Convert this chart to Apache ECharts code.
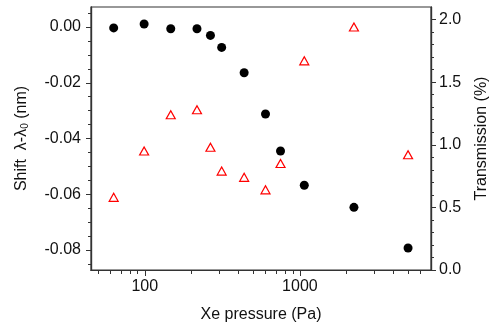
<!DOCTYPE html>
<html>
<head>
<meta charset="utf-8">
<script src="https://cdn.jsdelivr.net/npm/echarts@6/dist/echarts.min.js"></script>
<style>
  html, body { margin: 0; padding: 0; background: #fff; }
  #chart { width: 495px; height: 322px; }
</style>
</head>
<body>
<div id="chart"></div>
<script>
// Xe pressure (Pa), shared by both series
const pressure = [63, 99, 147, 217, 265, 313, 437, 600, 750, 1067, 2230, 4980];
// wavelength shift (nm), left axis
const shift = [-0.0003, 0.0011, -0.0006, -0.0006, -0.0030, -0.0073, -0.0164, -0.0312, -0.0445, -0.0568, -0.0647, -0.0793];
// transmission (%), right axis
const transmission = [0.58, 0.95, 1.24, 1.28, 0.98, 0.79, 0.74, 0.64, 0.85, 1.67, 1.94, 0.92];

// tick labels / positions
const xMajor = [100, 1000];
const xMinor = [50, 60, 70, 80, 90, 200, 300, 400, 500, 600, 700, 800, 900, 2000, 3000, 4000, 5000, 6000];
const leftMajor = [-0.08, -0.06, -0.04, -0.02, 0.00];
const leftMinor = [-0.085, -0.075, -0.07, -0.065, -0.055, -0.05, -0.045, -0.035, -0.03, -0.025, -0.015, -0.01, -0.005, 0.005];
const rightMajor = [0, 0.5, 1.0, 1.5, 2.0];
const rightMinor = [0.1, 0.2, 0.3, 0.4, 0.6, 0.7, 0.8, 0.9, 1.1, 1.2, 1.3, 1.4, 1.6, 1.7, 1.8, 1.9];

const X_MIN = 45, X_MAX = 7000;
const L_MIN = -0.0872, L_MAX = 0.0072;
const R_MIN = 0, R_MAX = 2.1;

const font = 'Liberation Sans, Arial, sans-serif';
const lineColor = '#333';

const chart = echarts.init(document.getElementById('chart'));

const baseX = {
  type: 'log',
  min: X_MIN,
  max: X_MAX,
  position: 'bottom',
  splitLine: { show: false },
  axisLine: { show: true, onZero: false, lineStyle: { color: lineColor, width: 1.2 } },
};
const baseY = {
  type: 'value',
  splitLine: { show: false },
  axisLine: { show: true, onZero: false, lineStyle: { color: lineColor, width: 1.2 } },
};

const option = {
  animation: false,
  grid: {
    left: 91, right: 64, top: 7, bottom: 52,
    outerBoundsMode: 'none',
    containLabel: false,
    show: true, borderColor: lineColor, borderWidth: 1.2, backgroundColor: 'transparent',
  },
  xAxis: [
    Object.assign({}, baseX, {
      name: 'Xe pressure (Pa)',
      nameLocation: 'middle',
      nameGap: 37,
      nameTextStyle: { fontFamily: font, fontSize: 16, color: '#111' },
      axisTick: { customValues: xMajor, length: 6, lineStyle: { color: lineColor } },
      axisLabel: {
        customValues: xMajor, fontFamily: font, fontSize: 16, color: '#111', margin: 9,
        formatter: v => String(Math.round(v)),
      },
    }),
    Object.assign({}, baseX, {
      axisTick: { customValues: xMinor, length: 4, lineStyle: { color: lineColor } },
      axisLabel: { show: false },
    }),
  ],
  yAxis: [
    Object.assign({}, baseY, {
      position: 'left',
      min: L_MIN,
      max: L_MAX,
      name: 'Shift  λ-λ{sub|0} (nm)',
      nameLocation: 'middle',
      nameGap: 61,
      nameTextStyle: {
        fontFamily: font, fontSize: 16, color: '#111',
        rich: { sub: { fontFamily: font, fontSize: 10, color: '#111', padding: [6, 0, 0, 0] } },
      },
      axisTick: { customValues: leftMajor, length: 5, lineStyle: { color: lineColor } },
      axisLabel: {
        customValues: leftMajor, fontFamily: font, fontSize: 16, color: '#111', margin: 10,
        formatter: v => v.toFixed(2),
      },
    }),
    Object.assign({}, baseY, {
      position: 'right',
      min: R_MIN,
      max: R_MAX,
      name: 'Transmission (%)',
      nameLocation: 'middle',
      nameGap: 43,
      nameTextStyle: { fontFamily: font, fontSize: 16, color: '#111' },
      axisTick: { customValues: rightMajor, length: 5, lineStyle: { color: lineColor } },
      axisLabel: {
        customValues: rightMajor, fontFamily: font, fontSize: 16, color: '#111', margin: 8,
        formatter: v => v.toFixed(1),
      },
    }),
    Object.assign({}, baseY, {
      position: 'left',
      min: L_MIN,
      max: L_MAX,
      axisTick: { customValues: leftMinor, length: 3, lineStyle: { color: lineColor } },
      axisLabel: { show: false },
    }),
    Object.assign({}, baseY, {
      position: 'right',
      min: R_MIN,
      max: R_MAX,
      axisTick: { customValues: rightMinor, length: 3, lineStyle: { color: lineColor } },
      axisLabel: { show: false },
    }),
  ],
  series: [
    {
      name: 'Shift',
      type: 'scatter',
      xAxisIndex: 0,
      yAxisIndex: 0,
      symbol: 'circle',
      symbolSize: 9,
      itemStyle: { color: '#000', opacity: 1 },
      data: pressure.map((p, i) => [p, shift[i]]),
    },
    {
      name: 'Transmission',
      type: 'scatter',
      xAxisIndex: 0,
      yAxisIndex: 1,
      symbol: 'triangle',
      symbolSize: [9, 8],
      itemStyle: { color: '#fff', borderColor: '#f00', borderWidth: 1.2, opacity: 1 },
      data: pressure.map((p, i) => [p, transmission[i]]),
    },
  ],
};

chart.setOption(option);
</script>
</body>
</html>
